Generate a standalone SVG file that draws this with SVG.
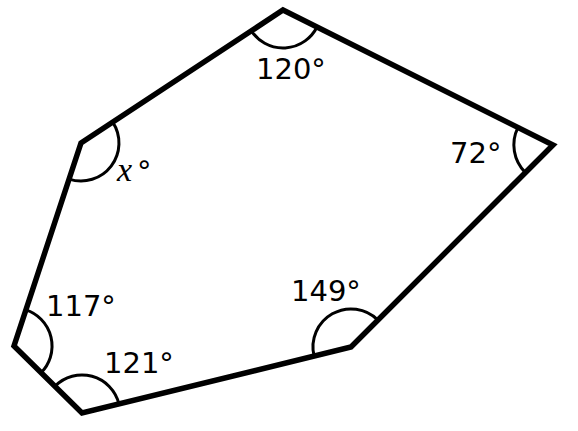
<svg xmlns="http://www.w3.org/2000/svg" width="578" height="431" viewBox="0 0 578 431">
<style>
.edge{fill:none;stroke:#000;stroke-width:5.5;stroke-linejoin:miter}
.arc{fill:none;stroke:#000;stroke-width:3}
.lbl{font-family:"DejaVu Sans",sans-serif;font-size:29px;fill:#000}
.var{font-family:"Liberation Serif",serif;font-style:italic;font-size:34px;fill:#000}
</style>
<rect width="578" height="431" fill="#fff"/>
<g id="connectors">
<polygon class="edge" points="283,10 553,145 351,347 82,413 14,346 81,143"/>
</g>
<g id="angle-A">
<path class="arc" d="M251.3,30.9 A38,38 0 0 0 317,27"/>
<text class="lbl" x="256" y="79">120°</text>
</g>
<g id="angle-B">
<path class="arc" d="M517.9,127.6 A39,39 0 0 0 525.4,172.6"/>
<text class="lbl" x="450" y="163">72°</text>
</g>
<g id="angle-C">
<path class="arc" d="M377.9,320.1 A38,38 0 0 0 314.1,356.1"/>
<text class="lbl" x="291" y="301">149°</text>
</g>
<g id="angle-D">
<path class="arc" d="M118.9,403.9 A38,38 0 0 0 54.9,386.3"/>
<text class="lbl" x="104" y="373">121°</text>
</g>
<g id="angle-E">
<path class="arc" d="M41.1,372.7 A38,38 0 0 0 25.9,309.9"/>
<text class="lbl" x="46" y="316">117°</text>
</g>
<g id="angle-F">
<path class="arc" d="M69.1,179.1 A38,38 0 0 0 112.7,122.1"/>
<text x="117" y="181"><tspan class="var">x</tspan><tspan class="lbl" dx="5">°</tspan></text>
</g>
</svg>
